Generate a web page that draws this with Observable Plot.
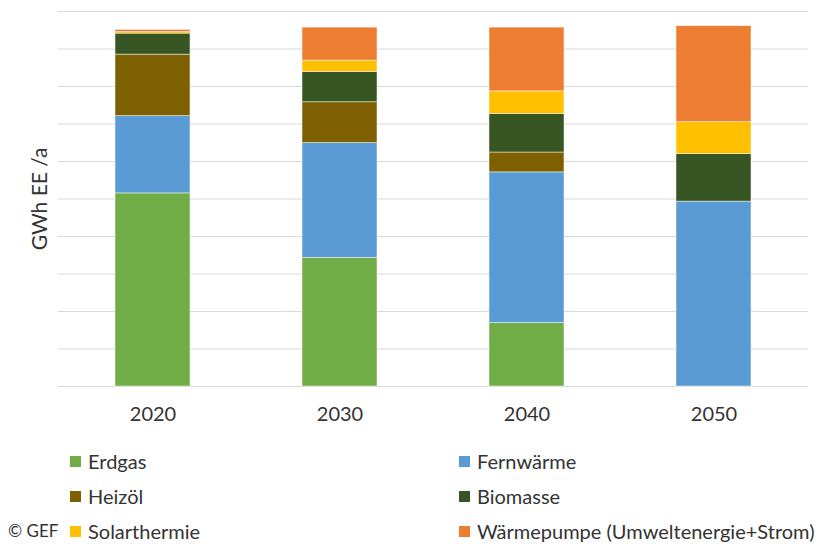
<!DOCTYPE html>
<html>
<head>
<meta charset="utf-8">
<script src="https://cdn.jsdelivr.net/npm/d3@7"></script>
<script src="https://cdn.jsdelivr.net/npm/@observablehq/plot@0.6"></script>
<style>
  html, body { margin: 0; padding: 0; background: #fff; }
  #wrap { position: relative; width: 824px; height: 544px; font-family: Lato, "Open Sans", sans-serif; color: #333; }
  .row { position: absolute; height: 24px; line-height: 24px; font-size: 20px; white-space: nowrap; }
  .sw { position: absolute; width: 11px; height: 11px; top: 7px; }
  .lb { position: absolute; left: 18px; top: 0; }
</style>
</head>
<body>
<div id="wrap"></div>
<script>
const years = ["2020", "2030", "2040", "2050"];
const series = ["Erdgas", "Fernwärme", "Heizöl", "Biomasse", "Solarthermie", "Wärmepumpe (Umweltenergie+Strom)"];
const colors = ["#70AD47", "#5B9BD5", "#7F6000", "#375623", "#FFC000", "#ED7D31"];
const erdgas      = [51.5, 34.3, 16.9, 0];
const fernwaerme  = [20.6, 30.6, 40.2, 49.3];
const heizoel     = [16.4, 10.9, 5.3, 0];
const biomasse    = [5.6, 8.1, 10.3, 12.7];
const solar       = [0.4, 3.0, 6.0, 8.5];
const waermepumpe = [0.6, 8.8, 17.0, 25.6];
const yTicks = [0, 10, 20, 30, 40, 50, 60, 70, 80, 90, 100];

const valuesBySeries = [erdgas, fernwaerme, heizoel, biomasse, solar, waermepumpe];
const data = [];
series.forEach((s, i) => years.forEach((y, j) => data.push({year: y, series: s, value: valuesBySeries[i][j]})));

const chart = Plot.plot({
  width: 824,
  height: 440,
  marginTop: 11,
  marginBottom: 54,
  marginLeft: 58,
  marginRight: 16,
  style: {fontFamily: "Lato, 'Open Sans', sans-serif", fontSize: "20px", color: "#333"},
  x: {domain: years, paddingInner: 0.6, paddingOuter: 0.3, label: null},
  y: {domain: [0, 100], label: null},
  color: {domain: series, range: colors},
  marks: [
    Plot.gridY(yTicks, {stroke: "#D9D9D9", strokeOpacity: 1, strokeWidth: 1}),
    Plot.barY(data, {x: "year", y: "value", fill: "series", stroke: "white", strokeWidth: 0.8, strokeOpacity: 0.6, inset: 0}),
    Plot.axisX({tickSize: 0, tickPadding: 20, fontSize: 20}),
    Plot.axisY({ticks: [], tickSize: 0, label: "GWh EE /a", labelAnchor: "center", labelArrow: "none", labelOffset: 26, fontSize: 21})
  ]
});
const wrap = document.getElementById("wrap");
wrap.appendChild(chart);

const colX = [[70, 88], [459, 477]];
const rowY = [449, 484, 519];
series.forEach((s, i) => {
  const col = i % 2, row = Math.floor(i / 2);
  const div = document.createElement("div");
  div.className = "row";
  div.style.left = colX[col][0] + "px";
  div.style.top = rowY[row] + "px";
  div.innerHTML = `<span class="sw" style="background:${colors[i]}"></span><span class="lb">${s}</span>`;
  wrap.appendChild(div);
});
const cr = document.createElement("div");
cr.className = "row";
cr.style.left = "8px";
cr.style.top = rowY[2] + "px";
cr.style.fontSize = "17px";
cr.textContent = "© GEF";
wrap.appendChild(cr);
</script>
</body>
</html>
